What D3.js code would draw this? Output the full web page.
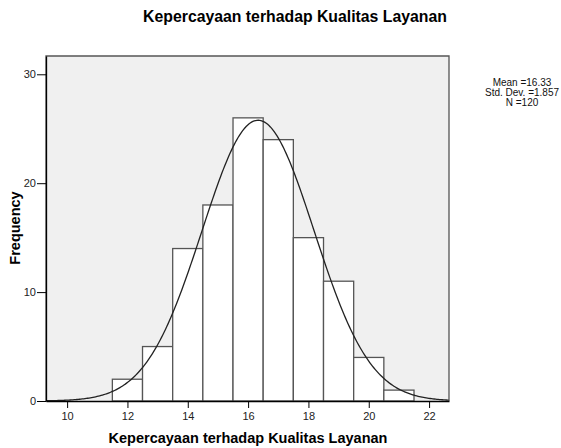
<!DOCTYPE html>
<html>
<head>
<meta charset="utf-8">
<script src="https://cdn.jsdelivr.net/npm/d3@7"></script>
<style>
  body { margin: 0; background: #fff; }
  svg { font-family: "Liberation Sans", Arial, sans-serif; }
</style>
</head>
<body>
<div id="chart"></div>
<script>
// histogram bins (lower edge, upper edge) and counts
const binStarts = [11.5, 12.5, 13.5, 14.5, 15.5, 16.5, 17.5, 18.5, 19.5, 20.5];
const binWidth = 1;
const counts = [2, 5, 14, 18, 26, 24, 15, 11, 4, 1];
const xTicks = [10, 12, 14, 16, 18, 20, 22];
const yTicks = [0, 10, 20, 30];
const mean = 16.33, stdDev = 1.857, n = 120;
const statLines = ["Mean =16.33", "Std. Dev. =1.857", "N =120"];

const W = 561, H = 448;
const margin = { top: 56, right: 112, bottom: 47, left: 46 };
const width = W - margin.left - margin.right,
    height = H - margin.top - margin.bottom;

var svg = d3.select("#chart")
    .append("svg")
    .attr("width", W)
    .attr("height", H);

var xScale = d3.scaleLinear().domain([9.3, 22.66]).range([0, width]),
    yScale = d3.scaleLinear().domain([0, 31.68]).range([height, 0]);

var g = svg.append("g")
    .attr("transform", "translate(" + margin.left + "," + margin.top + ")");

// plot background
g.append("rect")
    .attr("width", width)
    .attr("height", height)
    .attr("fill", "#f0f0f0");

// bars
g.selectAll(".bar")
    .data(counts)
    .enter().append("rect")
    .attr("class", "bar")
    .attr("x", (d, i) => xScale(binStarts[i]))
    .attr("y", d => yScale(d))
    .attr("width", (d, i) => xScale(binStarts[i] + binWidth) - xScale(binStarts[i]))
    .attr("height", d => height - yScale(d))
    .attr("fill", "#ffffff")
    .attr("stroke", "#555")
    .attr("stroke-width", 1.3);

// normal curve
const pdf = x => n * binWidth / (stdDev * Math.sqrt(2 * Math.PI)) *
    Math.exp(-0.5 * Math.pow((x - mean) / stdDev, 2));
const curveX = d3.range(0, 301).map(i => 9.3 + (22.66 - 9.3) * i / 300);
g.append("path")
    .datum(curveX)
    .attr("fill", "none")
    .attr("stroke", "#222")
    .attr("stroke-width", 1.3)
    .attr("d", d3.line().x(d => xScale(d)).y(d => yScale(pdf(d))));

// frame
g.append("path")
    .attr("d", "M0," + height + "V0H" + width + "V" + height)
    .attr("fill", "none")
    .attr("stroke", "#555")
    .attr("stroke-width", 1.3);

// axes
var xAxis = g.append("g")
    .attr("transform", "translate(0," + height + ")")
    .call(d3.axisBottom(xScale).tickValues(xTicks).tickSize(7).tickSizeOuter(0));
var yAxis = g.append("g")
    .call(d3.axisLeft(yScale).tickValues(yTicks).tickSize(9).tickSizeOuter(0));
[xAxis, yAxis].forEach(a => {
    a.select(".domain").attr("stroke", "#000").attr("stroke-width", 1.3);
    a.selectAll(".tick line").attr("stroke", "#000");
    a.selectAll("text")
        .attr("font-size", "11px")
        .attr("fill", "#222")
        .attr("font-family", "Liberation Sans, Arial, sans-serif");
});
yAxis.selectAll("text").attr("x", -10);
xAxis.selectAll("text").attr("y", 11);

// titles
svg.append("text")
    .attr("x", 295)
    .attr("y", 22)
    .attr("text-anchor", "middle")
    .attr("font-size", "15.8px")
    .attr("font-weight", "bold")
    .text("Kepercayaan terhadap Kualitas Layanan");

svg.append("text")
    .attr("x", 248)
    .attr("y", 443)
    .attr("text-anchor", "middle")
    .attr("font-size", "14.5px")
    .attr("font-weight", "bold")
    .text("Kepercayaan terhadap Kualitas Layanan");

svg.append("text")
    .attr("transform", "translate(20,228) rotate(-90)")
    .attr("text-anchor", "middle")
    .attr("font-size", "14.5px")
    .attr("font-weight", "bold")
    .text("Frequency");

// stats box
svg.append("g")
    .selectAll("text")
    .data(statLines)
    .enter().append("text")
    .attr("x", 522)
    .attr("y", (d, i) => 86 + i * 10)
    .attr("text-anchor", "middle")
    .attr("font-size", "10px")
    .attr("fill", "#111")
    .text(d => d);
</script>
</body>
</html>
